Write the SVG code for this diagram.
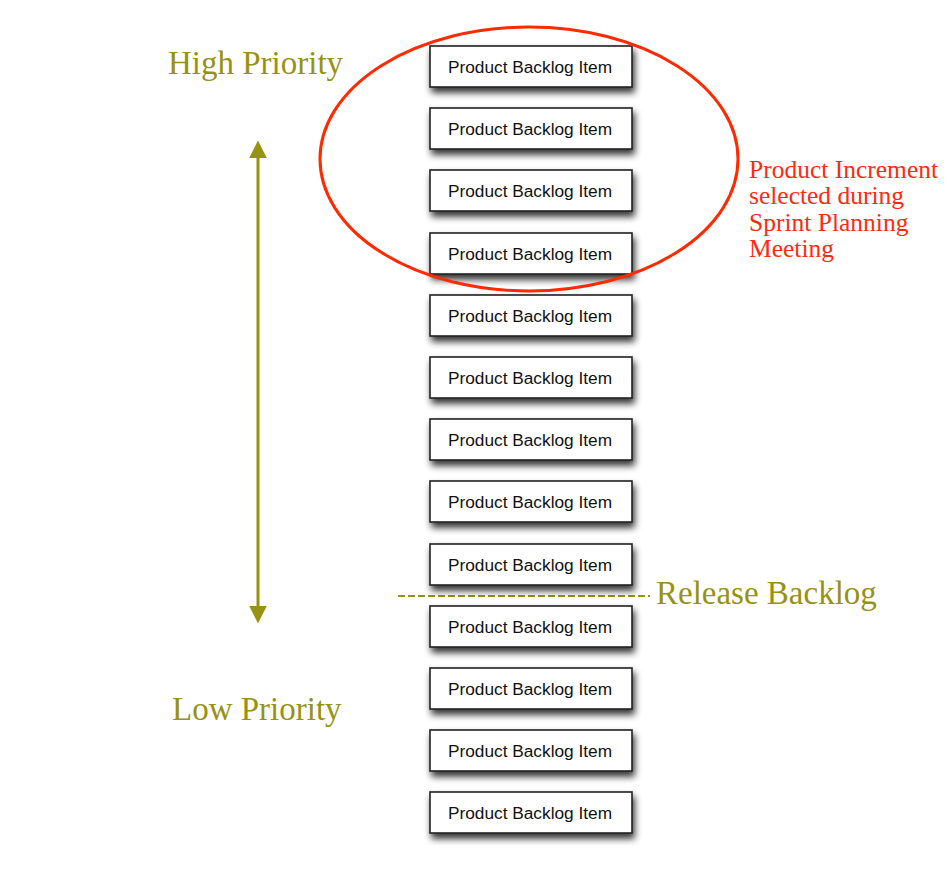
<svg xmlns="http://www.w3.org/2000/svg" width="951" height="891" viewBox="0 0 951 891">
<style>
.box{fill:#fff;stroke:#222;stroke-width:1.6}
.lbl{font-family:"Liberation Sans",Arial,sans-serif;font-size:17.3px;fill:#111;text-anchor:middle}
.olive{font-family:"Liberation Serif","Times New Roman",serif;fill:#979312;font-size:33px}
.red{font-family:"Liberation Serif","Times New Roman",serif;fill:#ff2a10;font-size:25.5px}
</style>
<defs>
<filter id="sh" x="-10%" y="-30%" width="125%" height="190%">
<feGaussianBlur in="SourceAlpha" stdDeviation="3.5"/>
<feOffset dx="2" dy="5" result="b"/>
<feComponentTransfer><feFuncA type="linear" slope="0.8"/></feComponentTransfer>
<feMerge><feMergeNode/><feMergeNode in="SourceGraphic"/></feMerge>
</filter>
<marker id="ah" viewBox="0 0 10 10" refX="8" refY="5" markerWidth="6" markerHeight="6" orient="auto-start-reverse" markerUnits="strokeWidth">
<path d="M0,0 L10,5 L0,10 Z" fill="#979312"/>
</marker>
</defs>
<rect width="951" height="891" fill="#fff"/>
<g id="connectors">
<line x1="258" y1="144" x2="258" y2="620" stroke="#979312" stroke-width="3" marker-start="url(#ah)" marker-end="url(#ah)"/>
<line x1="398" y1="596" x2="650" y2="596" stroke="#979312" stroke-width="2" stroke-dasharray="7,3"/>
</g>
<g id="n1"><rect class="box" x="430" y="46" width="202" height="41" filter="url(#sh)"/><text class="lbl" x="530" y="73">Product Backlog Item</text></g>
<g id="n2"><rect class="box" x="430" y="108" width="202" height="41" filter="url(#sh)"/><text class="lbl" x="530" y="135">Product Backlog Item</text></g>
<g id="n3"><rect class="box" x="430" y="170" width="202" height="41" filter="url(#sh)"/><text class="lbl" x="530" y="197">Product Backlog Item</text></g>
<g id="n4"><rect class="box" x="430" y="233" width="202" height="41" filter="url(#sh)"/><text class="lbl" x="530" y="260">Product Backlog Item</text></g>
<g id="n5"><rect class="box" x="430" y="295" width="202" height="41" filter="url(#sh)"/><text class="lbl" x="530" y="322">Product Backlog Item</text></g>
<g id="n6"><rect class="box" x="430" y="357" width="202" height="41" filter="url(#sh)"/><text class="lbl" x="530" y="384">Product Backlog Item</text></g>
<g id="n7"><rect class="box" x="430" y="419" width="202" height="41" filter="url(#sh)"/><text class="lbl" x="530" y="446">Product Backlog Item</text></g>
<g id="n8"><rect class="box" x="430" y="481" width="202" height="41" filter="url(#sh)"/><text class="lbl" x="530" y="508">Product Backlog Item</text></g>
<g id="n9"><rect class="box" x="430" y="544" width="202" height="41" filter="url(#sh)"/><text class="lbl" x="530" y="571">Product Backlog Item</text></g>
<g id="n10"><rect class="box" x="430" y="606" width="202" height="41" filter="url(#sh)"/><text class="lbl" x="530" y="633">Product Backlog Item</text></g>
<g id="n11"><rect class="box" x="430" y="668" width="202" height="41" filter="url(#sh)"/><text class="lbl" x="530" y="695">Product Backlog Item</text></g>
<g id="n12"><rect class="box" x="430" y="730" width="202" height="41" filter="url(#sh)"/><text class="lbl" x="530" y="757">Product Backlog Item</text></g>
<g id="n13"><rect class="box" x="430" y="792" width="202" height="41" filter="url(#sh)"/><text class="lbl" x="530" y="819">Product Backlog Item</text></g>
<g id="selection">
<ellipse cx="529" cy="159" rx="209" ry="132" fill="none" stroke="#ff2a00" stroke-width="3"/>
<text class="red" x="749" y="178">Product Increment</text>
<text class="red" x="749" y="204">selected during</text>
<text class="red" x="749" y="231">Sprint Planning</text>
<text class="red" x="749" y="257">Meeting</text>
</g>
<g id="labels">
<text class="olive" x="168" y="74">High Priority</text>
<text class="olive" x="172" y="720">Low Priority</text>
<text class="olive" x="656" y="604">Release Backlog</text>
</g>
</svg>
